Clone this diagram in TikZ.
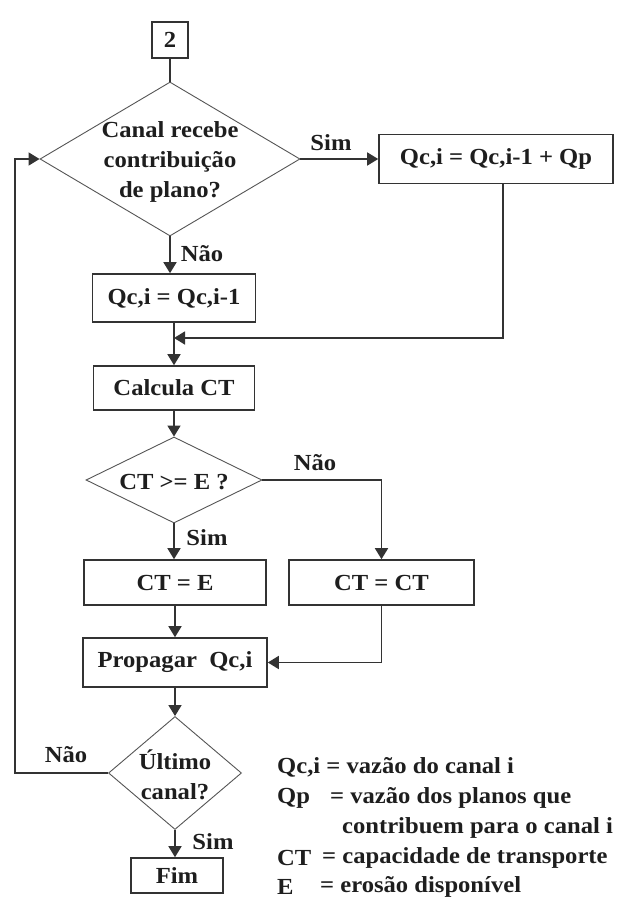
\documentclass[tikz,border=0pt]{standalone}
\usepackage{fontspec}
\setmainfont{Liberation Serif}[FakeStretch=1.07]
\usetikzlibrary{shapes.geometric,arrows.meta}
\definecolor{ln}{HTML}{333333}
\definecolor{dl}{HTML}{555555}
\definecolor{tx}{HTML}{1E1E1E}
\begin{document}
\begin{tikzpicture}[x=1pt,y=-1pt,
  every node/.style={font=\fontsize{23}{30}\selectfont\bfseries, text=tx},
  box/.style={draw=ln, line width=1.6pt, rectangle, inner sep=0pt},
  dia/.style={draw=dl, line width=0.9pt, diamond, inner sep=0pt},
  conn/.style={draw=ln, line width=1.6pt},
  arr/.style={conn, -{Triangle[length=11pt,width=13pt]}},
  lbl/.style={inner sep=0pt}]
\fill[white] (0,0) rectangle (635,915);
\useasboundingbox (0,0) rectangle (635,915);
% nodes
\node[box, minimum width=36pt, minimum height=36pt] (n2) at (170,40) {2};
\node[dia, minimum width=260pt, minimum height=154pt] (d1) at (170,159) {};
\node[align=center, lbl] (d1t) at (170,162) {Canal recebe\\contribuição\\de plano?};
\node[box, minimum width=234pt, minimum height=49pt] (s1) at (496,159) {Qc,i = Qc,i-1 + Qp};
\node[box, minimum width=163pt, minimum height=48pt] (q1) at (174,298) {Qc,i = Qc,i-1};
\coordinate (m) at (174,338);
\node[box, minimum width=161pt, minimum height=44pt] (calc) at (174,388) {Calcula CT};
\node[dia, minimum width=176pt, minimum height=86pt] (d2) at (174,480) {};
\node[lbl] (d2t) at (174,482) {CT >= E ?};
\node[box, minimum width=182pt, minimum height=45pt] (cte) at (175,582.5) {CT = E};
\node[box, minimum width=185pt, minimum height=45pt] (ctct) at (381.5,582.5) {CT = CT};
\node[box, minimum width=184pt, minimum height=49pt] (prop) at (175,662.5) {Propagar\ \ Qc,i};
\node[dia, minimum width=133pt, minimum height=113pt] (d3) at (175,773) {};
\node[align=center, lbl] (d3t) at (175,775) {Último\\canal?};
\node[box, minimum width=92pt, minimum height=35pt] (fim) at (177,875.5) {Fim};
\coordinate (lp) at (15,0);
% labels
\node[lbl] (ls1) at (331,143) {Sim};
\node[lbl] (ln1) at (202,254) {Não};
\node[lbl] (ln2) at (315,463) {Não};
\node[lbl] (ls2) at (207,538) {Sim};
\node[lbl] (ln3) at (66,755) {Não};
\node[lbl] (ls3) at (213,842) {Sim};
% legend
\node[lbl, anchor=west] (g1) at (277,767) {Qc,i = vazão do canal i};
\node[lbl, anchor=west] (g2a) at (277,798) {Qp};
\node[lbl, anchor=west] (g2b) at (330,798) {= vazão dos planos que};
\node[lbl, anchor=west] (g3) at (342,828) {contribuem para o canal i};
\node[lbl, anchor=west] (g4a) at (277,858) {CT};
\node[lbl, anchor=west] (g4b) at (322,858) {= capacidade de transporte};
\node[lbl, anchor=west] (g5a) at (277,887) {E};
\node[lbl, anchor=west] (g5b) at (320,887) {= erosão disponível};
% connectors
\draw[conn] (n2.south) -- (n2.south |- d1.north);
\draw[arr] (d1.east) -- (s1.west);
\draw[arr] (d1.south) -- (d1.south |- q1.north);
\draw[arr] ([xshift=7pt]s1.south) |- (m);
\draw[arr] (q1.south) -- (q1.south |- calc.north);
\draw[arr] (calc.south) -- (calc.south |- d2.north);
\draw[arr] (d2.east) -| (ctct.north);
\draw[arr] (d2.south) -- (d2.south |- cte.north);
\draw[arr] (cte.south) -- (cte.south |- prop.north);
\draw[arr] (ctct.south) |- (prop.east);
\draw[arr] (prop.south) -- (prop.south |- d3.north);
\draw[arr] (d3.south) -- (d3.south |- fim.north);
\draw[arr] (d3.west) -- (d3.west -| lp) -- (lp |- d1.west) -- (d1.west);
\end{tikzpicture}
\end{document}
